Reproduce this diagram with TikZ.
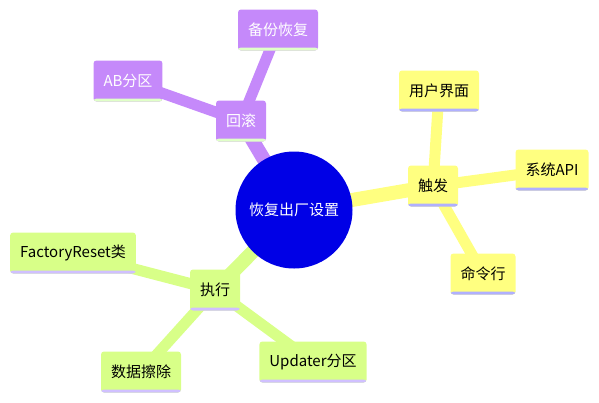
\documentclass[tikz,border=0pt]{standalone}
\usepackage{fontspec}
\setmainfont{Noto Sans CJK SC}
\usetikzlibrary{backgrounds}
\definecolor{rollfill}{RGB}{197,137,250}
\definecolor{rollline}{RGB}{224,255,200}
\definecolor{trigfill}{RGB}{255,255,128}
\definecolor{trigline}{RGB}{176,176,255}
\definecolor{execfill}{RGB}{216,255,136}
\definecolor{execline}{RGB}{208,192,255}
\definecolor{corefill}{RGB}{0,0,230}
\tikzset{
  box/.style={rounded corners=3pt, inner xsep=10pt, minimum height=41pt,
    font=\fontsize{15}{17}\selectfont},
  underline/.style={path picture={\fill[#1] ([yshift=3pt]path picture bounding box.south west)
    rectangle (path picture bounding box.south east);}},
  rollbox/.style={box, fill=rollfill, text=white, underline=rollline},
  trigbox/.style={box, fill=trigfill, text=black, underline=trigline},
  execbox/.style={box, fill=execfill, text=black, underline=execline},
  branch/.style={line width=14pt},
  twig/.style={line width=11pt},
}
\begin{document}
\begin{tikzpicture}[x=1pt, y=-1pt]
        \useasboundingbox (0,0) rectangle (599,402);

        % Core topic
        \node[circle, fill=corefill, text=white, minimum size=117pt, inner sep=0pt,
          font=\fontsize{15}{17}\selectfont] (core) at (294,210) {恢复出厂设置};

        % Rollback branch
        \node[rollbox] (rollback) at (241,121) {回滚};
        \node[rollbox] (backup) at (278,30) {备份恢复};
        \node[rollbox] (abpart) at (128,81) {AB分区};

        % Trigger branch
        \node[trigbox] (trigger) at (433,186) {触发};
        \node[trigbox] (userui) at (439,91) {用户界面};
        \node[trigbox] (sysapi) at (552,170) {系统API};
        \node[trigbox] (cmdline) at (483,274) {命令行};

        % Execute branch
        \node[execbox] (execute) at (215,290) {执行};
        \node[execbox] (factory) at (73,253) {FactoryReset类};
        \node[execbox] (wipe) at (141,372) {数据擦除};
        \node[execbox] (updater) at (313,362) {Updater分区};

        % Connectors
        \begin{scope}[on background layer]
          \draw[branch, rollfill] (core.center) -- (rollback.center);
          \draw[twig, rollfill] (rollback.center) -- (backup.center);
          \draw[twig, rollfill] (rollback.center) -- (abpart.center);
          \draw[branch, trigfill] (core.center) -- (trigger.center);
          \draw[twig, trigfill] (trigger.center) -- (userui.center);
          \draw[twig, trigfill] (trigger.center) -- (sysapi.center);
          \draw[twig, trigfill] (trigger.center) -- (cmdline.center);
          \draw[branch, execfill] (core.center) -- (execute.center);
          \draw[twig, execfill] (execute.center) -- (factory.center);
          \draw[twig, execfill] (execute.center) -- (wipe.center);
          \draw[twig, execfill] (execute.center) -- (updater.center);
        \end{scope}
\end{tikzpicture}
\end{document}
